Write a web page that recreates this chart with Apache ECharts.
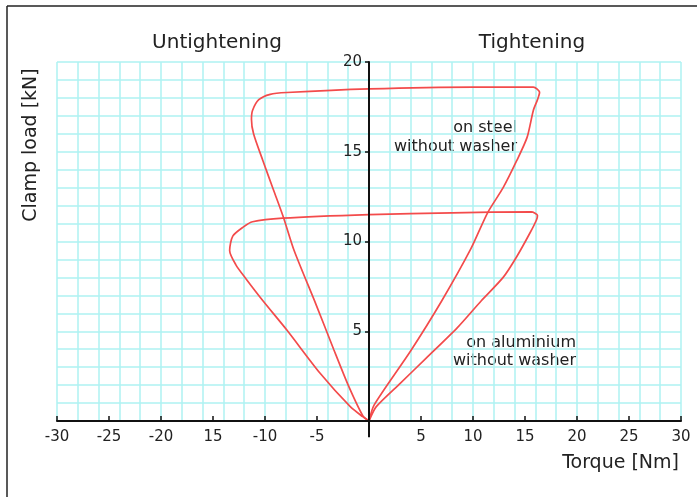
<!DOCTYPE html>
<html>
<head>
<meta charset="utf-8">
<script src="https://cdn.jsdelivr.net/npm/echarts@6/dist/echarts.min.js"></script>
<style>
html,body{margin:0;padding:0;background:#fff;}
#chart{width:697px;height:497px;}
</style>
</head>
<body>
<div id="chart"></div>
<script>
// Torque [Nm] / clamp load [kN]
const steelTorque = [0, 0.5, 4.0, 7.0, 9.8, 11.4, 12.9, 14.2, 15.2, 15.8, 16.2, 16.4, 15.8, 10.0, 0, -7.9, -9.5, -10.6, -11.2, -11.3, -11.1, -10.2, -9.2, -8.2, -7.2, -5.1, -3.4, -2.0, -0.6, 0];
const steelLoad   = [0, 0.9, 3.9, 6.7, 9.6, 11.6, 13.0, 14.5, 15.8, 17.3, 17.9, 18.3, 18.6, 18.6, 18.5, 18.3, 18.2, 17.9, 17.3, 16.8, 16.0, 14.5, 12.9, 11.3, 9.5, 6.5, 4.0, 2.0, 0.3, 0];
const aluTorque = [0, 0.7, 3.0, 5.5, 8.5, 10.8, 12.9, 14.2, 15.5, 16.1, 16.2, 15.6, 8.0, 0, -8.3, -11.2, -12.1, -13.1, -13.4, -12.8, -11.8, -10.2, -7.9, -4.7, -1.8, -0.6, 0];
const aluLoad   = [0, 0.8, 2.1, 3.5, 5.2, 6.7, 8.0, 9.15, 10.5, 11.2, 11.45, 11.65, 11.6, 11.5, 11.3, 11.1, 10.8, 10.3, 9.5, 8.7, 7.9, 6.7, 5.07, 2.66, 0.8, 0.24, 0];
const xTickValues = [-30, -25, -20, -15, -10, -5, 0, 5, 10, 15, 20, 25, 30];
const xTickLabels = ['-30', '-25', '-20', '15', '-10', '-5', '', '5', '10', '15', '20', '25', '30'];
const yTickValues = [0, 5, 10, 15, 20];
const yTickLabels = ['', '5', '10', '15', '20'];
const yAxisBelow = [0, -0.9];

const pairs = (xs, ys) => xs.map((x, i) => [x, ys[i]]);
const FONT = '"DejaVu Sans", Verdana, sans-serif';
const TXT = '#222';
const RED = '#f34b4b';
const GRIDC = '#aef2f2';
const GRID_LEFT = 57, GRID_RIGHT = 16;
const plotW = 697 - GRID_LEFT - GRID_RIGHT;
// y axis sits at torque 0, i.e. halfway across the -30..30 range
const yAxisOffset = -plotW * (0 - (-30)) / 60;

const chart = echarts.init(document.getElementById('chart'), null, {renderer: 'canvas'});
chart.setOption({
  animation: false,
  backgroundColor: '#fff',
  grid: {left: GRID_LEFT, right: GRID_RIGHT, top: 62, bottom: 76, containLabel: false},
  xAxis: [
    {
      type: 'value', min: -30, max: 30, interval: 5,
      axisLine: {show: true, onZero: false, lineStyle: {color: '#111', width: 2}},
      axisTick: {show: true, inside: true, length: 5, lineStyle: {color: '#111', width: 1.5}},
      axisLabel: {
        margin: 9, color: TXT, fontFamily: FONT, fontSize: 15,
        formatter: v => { const i = xTickValues.indexOf(v); return i >= 0 ? xTickLabels[i] : ''; }
      },
      splitLine: {show: false}, z: 4
    },
    {
      type: 'value', min: -30, max: 30, interval: 2, position: 'bottom',
      axisLine: {show: false}, axisTick: {show: false}, axisLabel: {show: false},
      splitLine: {show: true, lineStyle: {color: GRIDC, width: 1.5}}
    }
  ],
  yAxis: [
    {
      type: 'value', min: 0, max: 20, interval: 5, position: 'left', offset: yAxisOffset,
      axisLine: {show: true, onZero: false, lineStyle: {color: '#111', width: 2}},
      axisTick: {show: true, inside: false, length: 4, lineStyle: {color: '#111', width: 1.5}},
      axisLabel: {
        margin: 7, color: TXT, fontFamily: FONT, fontSize: 15,
        formatter: v => { const i = yTickValues.indexOf(v); return i >= 0 ? yTickLabels[i] : ''; }
      },
      splitLine: {show: false}, z: 4
    },
    {
      type: 'value', min: 0, max: 20, interval: 1,
      axisLine: {show: false}, axisTick: {show: false}, axisLabel: {show: false},
      splitLine: {show: true, lineStyle: {color: GRIDC, width: 1.5}}
    }
  ],
  series: [
    {
      name: 'on steel without washer', type: 'line', xAxisIndex: 0, yAxisIndex: 0,
      data: pairs(steelTorque, steelLoad), showSymbol: false, smooth: 0.25,
      lineStyle: {color: RED, width: 1.7}, z: 3
    },
    {
      name: 'on aluminium without washer', type: 'line', xAxisIndex: 0, yAxisIndex: 0,
      data: pairs(aluTorque, aluLoad), showSymbol: false, smooth: 0.25,
      lineStyle: {color: RED, width: 1.7}, z: 3
    },
    {
      name: 'axis', type: 'line', xAxisIndex: 0, yAxisIndex: 0, clip: false,
      data: yAxisBelow.map(y => [0, y]), showSymbol: false, silent: true,
      lineStyle: {color: '#111', width: 2}, z: 1
    }
  ],
  graphic: [
    {type: 'line', shape: {x1: 7, y1: 6, x2: 7, y2: 497}, style: {stroke: '#222', lineWidth: 1.5}},
    {type: 'line', shape: {x1: 7, y1: 6, x2: 697, y2: 6}, style: {stroke: '#222', lineWidth: 1.5}},
    {type: 'text', x: 217, y: 43, style: {text: 'Untightening', font: '20px ' + FONT, fill: TXT, align: 'center', verticalAlign: 'middle'}},
    {type: 'text', x: 532, y: 43, style: {text: 'Tightening', font: '20px ' + FONT, fill: TXT, align: 'center', verticalAlign: 'middle'}},
    {type: 'text', x: 31, y: 145, rotation: Math.PI / 2, style: {text: 'Clamp load [kN]', font: '19px ' + FONT, fill: TXT, align: 'center', verticalAlign: 'middle'}},
    {type: 'text', x: 679, y: 463, style: {text: 'Torque [Nm]', font: '19px ' + FONT, fill: TXT, align: 'right', verticalAlign: 'middle'}},
    {type: 'text', x: 517, y: 137.5, style: {text: 'on steel\nwithout washer', font: '16px ' + FONT, lineHeight: 19, fill: TXT, align: 'right', verticalAlign: 'middle'}},
    {type: 'text', x: 576, y: 351.5, style: {text: 'on aluminium\nwithout washer', font: '16px ' + FONT, lineHeight: 18, fill: TXT, align: 'right', verticalAlign: 'middle'}}
  ]
});
</script>
</body>
</html>
